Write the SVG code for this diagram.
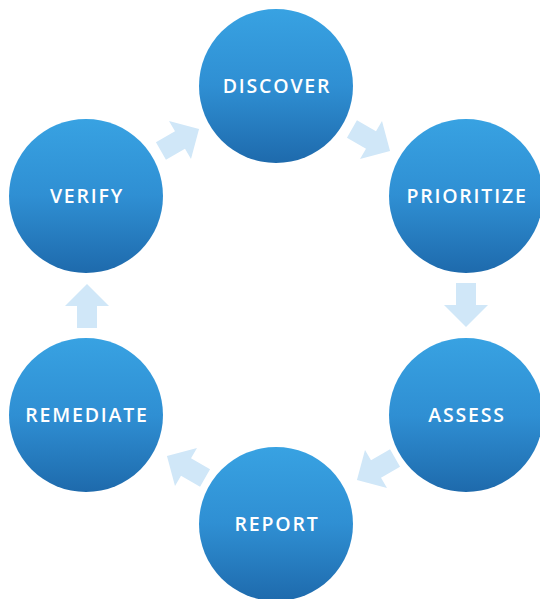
<svg xmlns="http://www.w3.org/2000/svg" width="540" height="599" viewBox="0 0 540 599">
<style>
.node circle{fill:url(#g)}
.node text{font-family:"Open Sans","Noto Sans",sans-serif;font-weight:600;font-size:19.5px;fill:#fff;text-anchor:middle;letter-spacing:1.8px}
.arr{fill:#d0e7f8}
</style>
<defs>
<linearGradient id="g" x1="0" y1="0" x2="0" y2="1">
<stop offset="0" stop-color="#38a2e2"/>
<stop offset="0.5" stop-color="#2f8fd3"/>
<stop offset="1" stop-color="#1e6aac"/>
</linearGradient>
<path id="a" d="M-22,-10 L0,-10 L0,-22 L22,0 L0,22 L0,10 L-22,10 Z"/>
</defs>
<rect width="540" height="599" fill="#fff"/>
<g id="connectors">
<use href="#a" class="arr" transform="translate(180,140) rotate(-30)"/>
<use href="#a" class="arr" transform="translate(371,140) rotate(30)"/>
<use href="#a" class="arr" transform="translate(466,305) rotate(90)"/>
<use href="#a" class="arr" transform="translate(376,469) rotate(150)"/>
<use href="#a" class="arr" transform="translate(186,467) rotate(210)"/>
<use href="#a" class="arr" transform="translate(87,306) rotate(-90)"/>
</g>
<g id="discover" class="node"><circle cx="276" cy="86" r="77"/><text x="277" y="93">DISCOVER</text></g>
<g id="prioritize" class="node"><circle cx="466" cy="196" r="77"/><text x="467" y="203">PRIORITIZE</text></g>
<g id="assess" class="node"><circle cx="466" cy="415" r="77"/><text x="467" y="422">ASSESS</text></g>
<g id="report" class="node"><circle cx="276" cy="524" r="77"/><text x="277" y="531">REPORT</text></g>
<g id="remediate" class="node"><circle cx="86" cy="415" r="77"/><text x="87" y="422">REMEDIATE</text></g>
<g id="verify" class="node"><circle cx="86" cy="196" r="77"/><text x="87" y="203">VERIFY</text></g>
</svg>
